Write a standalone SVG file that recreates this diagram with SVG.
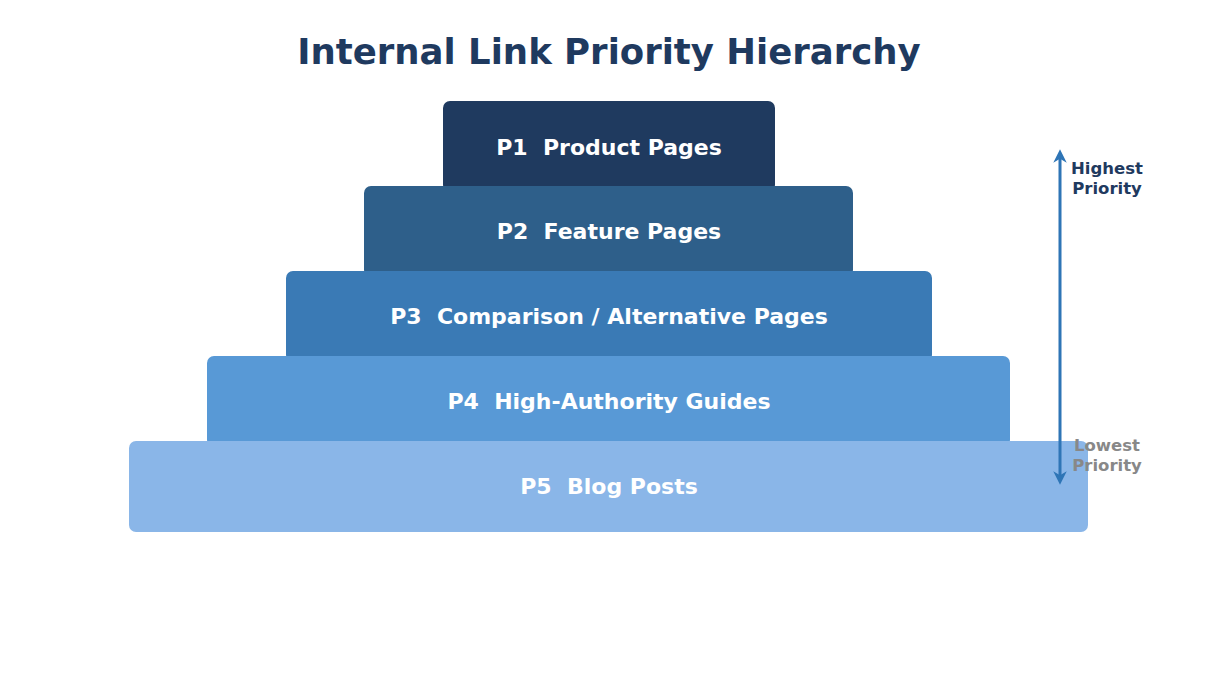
<svg xmlns="http://www.w3.org/2000/svg" width="1217" height="692" viewBox="0 0 1217 692">
<style>
.lbl{font-family:"DejaVu Sans",sans-serif;font-weight:bold;font-size:22px;fill:#ffffff;text-anchor:middle;white-space:pre}
.side{font-family:"DejaVu Sans",sans-serif;font-weight:bold;font-size:16.5px;text-anchor:middle}
.title{font-family:"DejaVu Sans",sans-serif;font-weight:bold;font-size:35.5px;fill:#1f3a5f;text-anchor:middle}
</style>
<defs>
<marker id="ah" viewBox="0 0 10 10" refX="5" refY="5" markerWidth="4.5" markerHeight="4.5" orient="auto-start-reverse">
<path d="M0,0 L10,5 L0,10 L3,5 z" fill="#2e75b6"/>
</marker>
</defs>
<rect width="1217" height="692" fill="#ffffff"/>
<text class="title" x="609" y="64">Internal Link Priority Hierarchy</text>
<g id="p1"><rect x="443" y="101" width="332" height="91" rx="7" fill="#1f3a5f"/><text class="lbl" x="609" y="155" xml:space="preserve">P1  Product Pages</text></g>
<g id="p2"><rect x="364" y="186" width="489" height="91" rx="7" fill="#2e5f8a"/><text class="lbl" x="609" y="239" xml:space="preserve">P2  Feature Pages</text></g>
<g id="p3"><rect x="286" y="271" width="646" height="91" rx="7" fill="#3a7ab5"/><text class="lbl" x="609" y="324" xml:space="preserve">P3  Comparison / Alternative Pages</text></g>
<g id="p4"><rect x="207" y="356" width="803" height="91" rx="7" fill="#5899d6"/><text class="lbl" x="609" y="409" xml:space="preserve">P4  High-Authority Guides</text></g>
<g id="p5"><rect x="129" y="441" width="959" height="91" rx="7" fill="#8ab6e8"/><text class="lbl" x="609" y="494" xml:space="preserve">P5  Blog Posts</text></g>
<g id="connectors">
<line x1="1060" y1="156" x2="1060" y2="478" stroke="#2e75b6" stroke-width="3" marker-start="url(#ah)" marker-end="url(#ah)"/>
</g>
<g id="labels">
<text class="side" x="1107" y="174" fill="#1f3a5f">Highest</text>
<text class="side" x="1107" y="194" fill="#1f3a5f">Priority</text>
<text class="side" x="1107" y="451" fill="#888888">Lowest</text>
<text class="side" x="1107" y="471" fill="#888888">Priority</text>
</g>
</svg>
